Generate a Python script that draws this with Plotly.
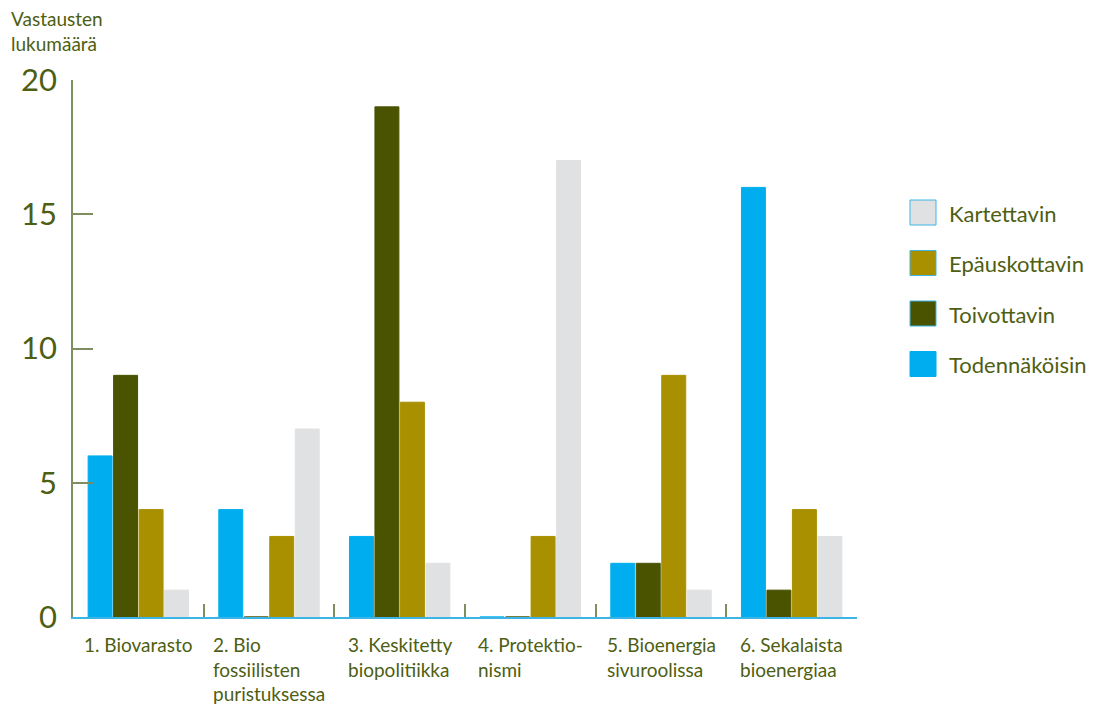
import plotly.graph_objects as go

categories = ["1. Biovarasto", "2. Bio<br>fossiilisten<br>puristuksessa", "3. Keskitetty<br>biopolitiikka",
              "4. Protektio-<br>nismi", "5. Bioenergia<br>sivuroolissa", "6. Sekalaista<br>bioenergiaa"]
cat_keys = ["c1", "c2", "c3", "c4", "c5", "c6"]

series_names = ["Todennäköisin", "Toivottavin", "Epäuskottavin", "Kartettavin"]
todennakoisin = [6, 4, 3, 0, 2, 16]
toivottavin = [9, 0, 19, 0, 2, 1]
epauskottavin = [4, 3, 8, 3, 9, 4]
kartettavin = [1, 7, 2, 17, 1, 3]
series_values = [todennakoisin, toivottavin, epauskottavin, kartettavin]
colors = ["#00AEEF", "#4A5300", "#A89000", "#E0E1E3"]

y_ticks = [0, 5, 10, 15, 20]
y_title = "Vastausten<br>lukumäärä"

TXT = "#4E5E12"
AX = "#7F8E5E"
FONT = "Lato"

# page offset (body margin of 8px in the HTML page)
OFF = 8
PX0, PY0, PW, PH = 73, 80, 784, 537  # plot area in page pixels


def dx(px):
    return (px - PX0) / PW


def dy(py):
    return (PY0 + PH - py) / PH


fig = go.Figure()
for name, vals, col in zip(series_names, series_values, colors):
    fig.add_trace(go.Bar(x=cat_keys, y=vals, name=name,
                         marker=dict(color=col, line=dict(width=1, color=col)),
                         showlegend=False))

# category labels
for key, lab in zip(cat_keys, categories):
    fig.add_annotation(x=key, y=0, xref="x", yref="y", text=lab, showarrow=False,
                       xanchor="center", yanchor="top", align="left", yshift=-14,
                       font=dict(family=FONT, size=19, color=TXT))

# axis title
fig.add_annotation(x=dx(9), y=dy(5), xref="paper", yref="paper", text=y_title, showarrow=False,
                   xanchor="left", yanchor="top", align="left",
                   font=dict(family=FONT, size=19, color=TXT))

# manual legend (reverse order)
leg_order = list(reversed(range(len(series_names))))
for i, idx in enumerate(leg_order):
    ytop = 200 + i * 50.5
    fig.add_shape(type="rect", xref="paper", yref="paper",
                  x0=dx(910), x1=dx(936), y0=dy(ytop + 25), y1=dy(ytop),
                  fillcolor=colors[idx], line=dict(color="#3DB4E6" if idx != 0 else colors[idx], width=1))
    fig.add_annotation(xref="paper", yref="paper", x=dx(947), y=dy(ytop + 13),
                       text=series_names[idx], showarrow=False, xanchor="left", yanchor="middle",
                       font=dict(family=FONT, size=22, color=TXT))

fig.update_layout(
    width=1096 - OFF, height=709 - OFF,
    margin=dict(l=PX0 - OFF, r=1096 - PX0 - PW, t=PY0 - OFF, b=709 - PY0 - PH, autoexpand=False),
    paper_bgcolor="white", plot_bgcolor="white",
    barmode="group", bargap=0.22, bargroupgap=0.06,
    font=dict(family=FONT, color=TXT),
)
fig.update_xaxes(type="category", showline=True, linecolor="#3DB4E6", linewidth=2,
                 ticks="inside", tickson="boundaries", ticklen=13, tickcolor=AX, tickwidth=1.5,
                 showticklabels=False, showgrid=False, zeroline=False, layer="below traces")
fig.update_yaxes(range=[0, 20], tickvals=y_ticks, showline=True, linecolor=AX, linewidth=1.5,
                 ticks="inside", ticklen=20, tickcolor=AX, tickwidth=1.5,
                 tickfont=dict(family=FONT, size=31, color=TXT), ticklabelstandoff=8,
                 showgrid=False, zeroline=False)

fig.write_html("out.html")
